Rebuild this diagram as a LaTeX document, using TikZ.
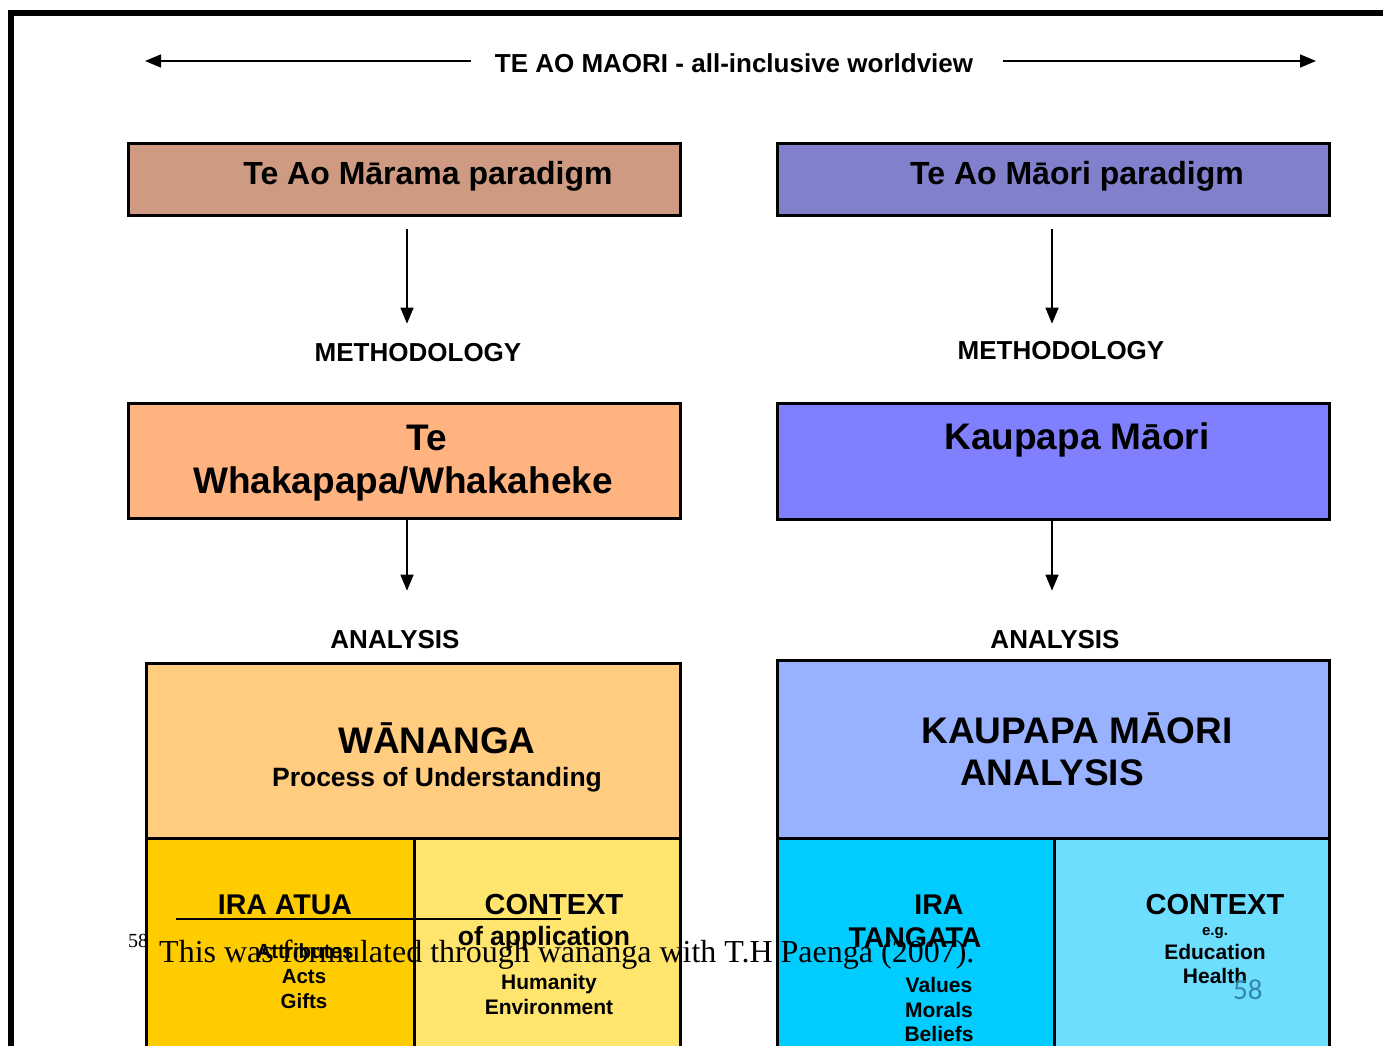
\documentclass[tikz,border=0pt]{standalone}
\usepackage{fontspec}
\setmainfont{Liberation Sans}
\newfontfamily\footserif{Liberation Serif}
\newfontfamily\pagenum{Carlito}
\usetikzlibrary{arrows.meta}

\definecolor{maramaC}{RGB}{206,155,130}
\definecolor{maoriC}{RGB}{128,128,204}
\definecolor{whakaC}{RGB}{255,179,128}
\definecolor{kaupapaC}{RGB}{128,128,255}
\definecolor{wanangaC}{RGB}{255,204,128}
\definecolor{atuaC}{RGB}{255,204,0}
\definecolor{ctxyC}{RGB}{255,228,110}
\definecolor{kmaC}{RGB}{153,178,255}
\definecolor{tangataC}{RGB}{0,204,255}
\definecolor{ctxbC}{RGB}{110,222,255}
\definecolor{numC}{RGB}{50,135,175}

\newcommand{\fs}[1]{\fontsize{#1}{#1}\selectfont}

\tikzset{
  box/.style={draw=black, line width=3, anchor=north west, inner sep=0, outer sep=0},
  % bold label placed by the middle of its capitals
  lbl/.style={inner sep=0, outer sep=0, anchor=base, font=\bfseries\fs{#1}, yshift={-0.358*#1 pt}},
  conn/.style={line width=1.5, -{Triangle[length=16,width=13]}},
}

\begin{document}
\begin{tikzpicture}[x=1pt, y=-1pt]
\useasboundingbox (0,0) rectangle (1383,1045);
\clip (0,0) rectangle (1383,1045);
\fill[white] (0,0) rectangle (1383,1045);

% page frame
\draw[line width=6] (11,1060) -- (11,13) -- (1400,13);

% worldview heading with two-way arrows
\node[lbl=26] (title) at (734,63) {TE AO MAORI - all-inclusive worldview};
\coordinate (lend) at (145,61);
\coordinate (rend) at (1316,61);
\draw[conn, shorten <=24] (title.west |- lend) -- (lend);
\draw[conn, shorten <=30] (title.east |- rend) -- (rend);

% paradigm boxes
\node[box, fill=maramaC, minimum width=552, minimum height=72] (b1) at (128,143) {};
\node[box, fill=maoriC, minimum width=552, minimum height=72] (b2) at (777,143) {};
\node[lbl=32] (t1) at (428,173) {Te Ao Mārama paradigm};
\node[lbl=32] (t2) at (1077,173) {Te Ao Māori paradigm};

% methodology labels
\node[lbl=26] (meth1) at (418,352) {METHODOLOGY};
\node[lbl=26] (meth2) at (1061,350) {METHODOLOGY};
\coordinate (ax1) at (407,0);
\coordinate (ax2) at (1052,0);
\draw[conn, shorten <=14, shorten >=19.5] (b1.south -| ax1) -- (meth1.north -| ax1);
\draw[conn, shorten <=14, shorten >=17.5] (b2.south -| ax2) -- (meth2.north -| ax2);

% methodology boxes
\node[box, fill=whakaC, minimum width=552, minimum height=115] (b3) at (128,403) {};
\node[box, fill=kaupapaC, minimum width=552, minimum height=116] (b4) at (777,403) {};
\node[lbl=37] (t3a) at (427,437) {Te};
\node[lbl=37] (t3b) at (403,480) {Whakapapa/Whakaheke};
\node[lbl=37] (t4) at (1077,436) {Kaupapa Māori};

% analysis labels
\node[lbl=26] (ana1) at (395,639) {ANALYSIS};
\node[lbl=26] (ana2) at (1055,639) {ANALYSIS};
\draw[conn, shorten <=1.5, shorten >=39.5] (b3.south -| ax1) -- (ana1.north -| ax1);
\draw[conn, shorten <=1, shorten >=39.5] (b4.south -| ax2) -- (ana2.north -| ax2);

% analysis boxes
\node[box, fill=wanangaC, minimum width=534, minimum height=175] (b5) at (146,663) {};
\fill[white] (260,659) rectangle (538,662.4);
\node[box, fill=kmaC, minimum width=552, minimum height=178] (b8) at (777,660) {};
\node[lbl=37] (t5a) at (437,740) {WĀNANGA};
\node[lbl=26.5] (t5b) at (437,777) {Process of Understanding};
\node[lbl=37] (t8a) at (1077,730) {KAUPAPA MĀORI};
\node[lbl=37] (t8b) at (1052,772) {ANALYSIS};

% lower compartments
\node[box, fill=atuaC, minimum width=268, minimum height=260] (b6) at (146,838) {};
\node[box, fill=ctxyC, minimum width=266, minimum height=260] (b7) at (414,838) {};
\node[box, fill=tangataC, minimum width=277, minimum height=260] (b9) at (777,838) {};
\node[box, fill=ctxbC, minimum width=275, minimum height=260] (b10) at (1054,838) {};

% left compartment texts
\node[lbl=28.5] (t6a) at (285,904) {IRA ATUA};
\node[lbl=29] (t7a) at (554,904) {CONTEXT};
\coordinate (ul1) at (176,919);
\coordinate (ul2) at (561,919);
\draw[line width=2] (ul1) -- (ul2);
\node[lbl=26.5] (t7b) at (544,936) {of application};
\node[lbl=20.5] (t6b) at (305,951) {Attributes};
\node[lbl=20.5] (t6c) at (304,976) {Acts};
\node[lbl=20.5] (t6d) at (304,1001) {Gifts};
\node[lbl=21] (t7c) at (549,982) {Humanity};
\node[lbl=21] (t7d) at (549,1007) {Environment};

% right compartment texts
\node[lbl=28.5] (t9a) at (939,904) {IRA};
\node[lbl=28.5] (t9b) at (915,937) {TANGATA};
\node[lbl=21] (t9c) at (939,985) {Values};
\node[lbl=21] (t9d) at (939,1010) {Morals};
\node[lbl=21] (t9e) at (939,1034) {Beliefs};
\node[lbl=29] (t10a) at (1215,904) {CONTEXT};
\node[lbl=15] (t10b) at (1215,930) {e.g.};
\node[lbl=21] (t10c) at (1215,952) {Education};
\node[lbl=21] (t10d) at (1215,976) {Health};

% footnote and page number
\node[inner sep=0, anchor=base west, font=\footserif\fs{20}] (fnmark) at (128,947) {58};
\node[inner sep=0, anchor=base west, font=\footserif\fs{32}] (fntext) at (159,962) {This was formulated through wananga with T.H Paenga (2007).};
\node[inner sep=0, anchor=base west, font=\pagenum\fs{29}, text=numC] (pgnum) at (1233,999) {58};
\end{tikzpicture}
\end{document}
